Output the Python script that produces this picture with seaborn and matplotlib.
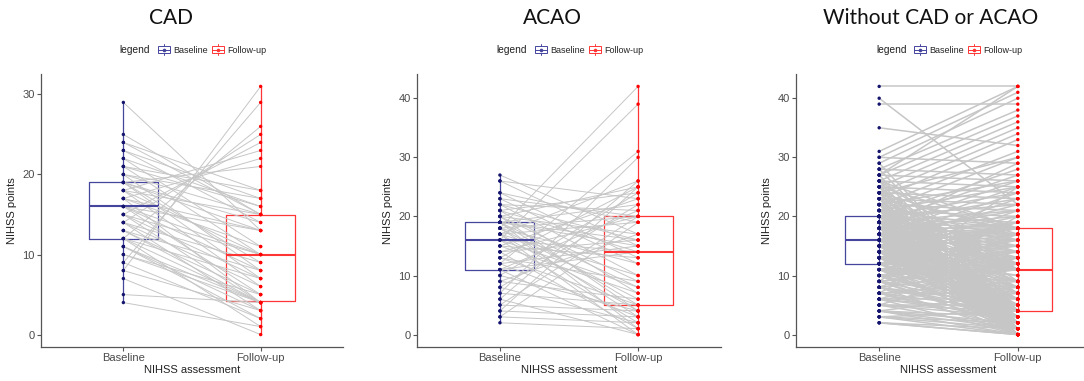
import matplotlib
matplotlib.use("Agg")
import numpy as np
import pandas as pd
import seaborn as sns
import matplotlib.pyplot as plt
from matplotlib.legend_handler import HandlerBase
from matplotlib.patches import Rectangle
from matplotlib.lines import Line2D

# ---------------- data ----------------
GROUPS = ["Baseline", "Follow-up"]
panel_titles = ["CAD", "ACAO", "Without CAD or ACAO"]

# each baseline level and the follow-up scores of the patients with that baseline score
cad_baseline_levels = [4, 5, 7, 8, 9, 10, 11, 12, 13, 14, 15, 16, 17, 18, 19, 20, 21, 22, 23, 24, 25, 29]
cad_followup = [[1], [4], [0], [31, 3], [29, 2], [4, 5], [2, 4, 3], [26, 1, 4, 7], [5, 4, 8],
                [25, 6, 9, 3], [24, 7, 10, 4], [13, 8, 10, 5], [22, 11, 4, 13], [23, 10, 15, 6],
                [21, 9, 13, 14, 7], [17, 15, 8], [18, 16, 10], [16, 11], [17, 14], [15, 18], [15], [13]]

acao_baseline_levels = [2, 3, 4, 5, 6, 7, 8, 9, 10, 11, 12, 13, 14, 15, 16, 17, 18, 19, 20, 21, 22, 23, 24, 26, 27]
acao_followup = [[1], [2, 19], [3, 25], [4, 20], [0, 26], [5, 30], [2, 22], [6, 17], [4, 24],
                 [0, 14, 21], [3, 15, 31], [5, 9, 25], [1, 16, 20], [7, 13, 23], [2, 14, 39, 8],
                 [4, 10, 19, 26, 0], [6, 12, 20, 42, 3], [1, 8, 15, 22, 16, 5], [9, 17, 25, 4],
                 [7, 14, 24], [10, 16, 21], [12, 20], [13, 19], [15, 23], [17]]

other_baseline_levels = [2, 3, 4, 5, 6, 7, 8, 9, 10, 11, 12, 13, 14, 15, 16, 17, 18, 19, 20,
                         21, 22, 23, 24, 25, 26, 27, 28, 29, 30, 31, 35, 39, 40, 42]
other_followup = [
    [0, 1, 0],
    [0, 1, 2, 4],
    [0, 2, 7, 1, 3],
    [5, 1, 4, 12, 3],
    [4, 6, 0, 8, 3, 13],
    [4, 7, 1, 9, 2, 20],
    [4, 5, 0, 11, 3, 17],
    [4, 11, 6, 1, 12, 2, 25],
    [4, 11, 5, 0, 13, 8, 3, 14],
    [4, 11, 7, 1, 12, 2, 16, 9],
    [4, 11, 13, 0, 6, 17, 10, 3, 15, 19],
    [21, 4, 11, 18, 12, 1, 9, 16, 5, 2, 14, 8],
    [19, 2, 4, 11, 18, 17, 6, 13, 0, 10, 15, 7, 3],
    [20, 4, 11, 18, 12, 9, 0, 16, 5, 3, 14, 8, 1, 23],
    [22, 3, 4, 11, 18, 13, 6, 1, 17, 11, 0, 15, 7, 24, 2],
    [19, 25, 2, 4, 11, 18, 12, 8, 0, 14, 16, 5, 1, 9, 21],
    [29, 20, 1, 4, 11, 18, 17, 7, 3, 15, 0, 11, 13, 26, 6],
    [27, 21, 3, 4, 11, 18, 12, 5, 0, 16, 9, 2, 14, 23],
    [28, 19, 24, 2, 4, 11, 18, 13, 6, 0, 15, 22, 1, 8, 17, 11],
    [30, 20, 25, 3, 0, 4, 11, 18, 14],
    [31, 21, 26, 1, 4, 11, 16, 7],
    [33, 22, 0, 4, 12, 18, 2],
    [34, 23, 4, 11, 17, 1, 30],
    [35, 24, 4, 0, 18, 9],
    [36, 25, 1, 18, 11],
    [37, 26, 2, 42],
    [38, 27, 4],
    [40, 4],
    [41, 29],
    [42],
    [32],
    [39],
    [22],
    [42],
]

y_limits = [(-1.55, 32.55), (-2.1, 44.1), (-2.1, 44.1)]
y_ticks = [[0, 10, 20, 30], [0, 10, 20, 30, 40], [0, 10, 20, 30, 40]]


def build(levels, fu_lists):
    rows = []
    pid = 0
    for b, fus in zip(levels, fu_lists):
        for f in fus:
            rows.append((pid, GROUPS[0], b))
            rows.append((pid, GROUPS[1], f))
            pid += 1
    df = pd.DataFrame(rows, columns=["id", "time", "nihss"])
    df["pos"] = df["time"].map({g: i for i, g in enumerate(GROUPS)})
    return df


frames = [build(cad_baseline_levels, cad_followup),
          build(acao_baseline_levels, acao_followup),
          build(other_baseline_levels, other_followup)]

# ---------------- style ----------------
sns.set_theme(style="white")
plt.rcParams["font.family"] = ["Liberation Sans", "DejaVu Sans"]

box_colors = {"Baseline": "#45459e", "Follow-up": "#ff3535"}
pt_colors = {"Baseline": "#14146e", "Follow-up": "#ff0000"}
line_color = "#c6c6c6"
spine_color = "#555555"


class BoxHandler(HandlerBase):
    def create_artists(self, legend, orig_handle, xdescent, ydescent, width, height,
                       fontsize, trans):
        c = orig_handle.get_color()
        x0, y0 = -xdescent, -ydescent
        cx, cy = x0 + width / 2, y0 + height / 2
        bw, bh = width * 0.9, height * 0.8
        kw = dict(color=c, lw=0.7, transform=trans)
        rect = Rectangle((cx - bw / 2, cy - bh / 2), bw, bh, fill=False, edgecolor=c,
                         linewidth=0.7, transform=trans)
        med = Line2D([cx - bw / 2, cx + bw / 2], [cy, cy], **kw)
        w1 = Line2D([cx, cx], [cy + bh / 2, y0 + height * 1.12], **kw)
        w2 = Line2D([cx, cx], [cy - bh / 2, y0 - height * 0.12], **kw)
        dot = Line2D([cx], [cy], marker="o", ms=1.6, color=c, lw=0, transform=trans)
        return [rect, med, w1, w2, dot]


W, H = 1084, 381
fig = plt.figure(figsize=(W / 100, H / 100), dpi=100)

axes_px = [(41, 302), (417, 304), (796, 305)]
title_x = [171, 552, 931]
top_px, bottom_px = 74, 347

for i, df in enumerate(frames):
    left, width = axes_px[i]
    ax = fig.add_axes([left / W, (H - bottom_px) / H, width / W, (bottom_px - top_px) / H])
    dodge = (i == 2)
    sns.boxplot(data=df, x="time", y="nihss", hue="time", order=GROUPS, hue_order=GROUPS,
                palette=box_colors, fill=False, width=0.5, dodge=dodge, gap=0,
                whis=np.inf, showcaps=False, showfliers=False, linewidth=0.9,
                medianprops=dict(linewidth=1.5),
                whiskerprops=dict(linewidth=0 if dodge else 0.9),
                legend=False, ax=ax)
    sns.lineplot(data=df, x="pos", y="nihss", units="id", estimator=None,
                 color=line_color, linewidth=1.1 if dodge else 0.7, ax=ax, zorder=2)
    sns.scatterplot(data=df, x="pos", y="nihss", hue="time", hue_order=GROUPS,
                    palette=pt_colors, s=6, linewidth=0, legend=False, ax=ax, zorder=3)

    ax.set_xlim(-0.6, 1.6)
    ax.set_ylim(*y_limits[i])
    ax.set_yticks(y_ticks[i])
    ax.set_xticks([0, 1])
    ax.set_xticklabels(GROUPS)
    ax.set_xlabel("NIHSS assessment", fontsize=8, color="#222222", labelpad=1)
    ax.set_ylabel("NIHSS points", fontsize=8, color="#222222", labelpad=4)
    for s in ["top", "right"]:
        ax.spines[s].set_visible(False)
    for s in ["left", "bottom"]:
        ax.spines[s].set_color(spine_color)
        ax.spines[s].set_linewidth(0.9)
    ax.tick_params(axis="both", length=3, width=0.8, color=spine_color, labelsize=8,
                   labelcolor="#4a4a4a", pad=1.5, direction="out",
                   bottom=True, left=True)

    handles = [Line2D([], [], color=box_colors[g]) for g in GROUPS]
    ax.legend(handles, GROUPS, handler_map={Line2D: BoxHandler()}, loc="center",
              bbox_to_anchor=(0.5 + 19.5 / width, 1.088), ncol=2, frameon=False,
              fontsize=6.5, handlelength=1.5, handleheight=1.1, handletextpad=0.25,
              columnspacing=0.4, borderpad=0, borderaxespad=0)
    ax.text(0.5 - 42 / width, 1.088, "legend", transform=ax.transAxes, ha="right",
            va="center", fontsize=7.3, color="#222222")

    fig.text(title_x[i] / W, 1 - 17.5 / H, panel_titles[i], ha="center", va="center",
             fontsize=15, family=["Lato", "DejaVu Sans"], color="#111111")

fig.savefig("out.png", dpi=100)
